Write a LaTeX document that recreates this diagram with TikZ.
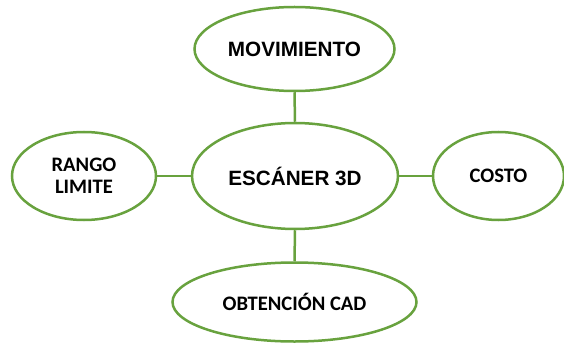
\documentclass[tikz,border=0pt]{standalone}
\usepackage{fontspec}
\usetikzlibrary{shapes.geometric}
\newfontfamily\arialbold{Liberation Sans}[BoldFont=* Bold]
\newfontfamily\calibribold{Carlito}[BoldFont=* Bold]
\definecolor{ringgreen}{RGB}{104,162,62}
\definecolor{linkgreen}{RGB}{104,162,62}
\tikzset{
  %% Green outlined ellipse, white inside
  topic/.style={
    ellipse, draw=ringgreen, fill=white, line width=2.5pt,
    inner sep=0pt, align=center
  },
  mainfont/.style={font=\arialbold\bfseries\fontsize{20.7}{22}\selectfont},
  sidefont/.style={font=\calibribold\bfseries\fontsize{20.6}{21.7}\selectfont},
  link/.style={draw=linkgreen, line width=2.5pt},
}
\begin{document}
\begin{tikzpicture}[x=1pt, y=1pt]

  %% ── Canvas ────────────────────────────────────────────────────────────
  \useasboundingbox (0,0) rectangle (564,343);

  %% ── Centre ────────────────────────────────────────────────────────────
  \node[topic, mainfont, minimum width=206pt, minimum height=106pt]
        (scanner) at (295,167) {ESC\'ANER 3D};

  %% ── Satellites ────────────────────────────────────────────────────────
  \node[topic, mainfont, minimum width=200pt, minimum height=84pt]
        (motion) at (294.5,294) {MOVIMIENTO};
  \node[topic, sidefont, minimum width=144pt, minimum height=88pt]
        (range) at (84,167) {RANGO\\LIMITE};
  \node[topic, sidefont, minimum width=131pt, minimum height=88pt]
        (cost) at (498.5,167) {COSTO};
  \node[topic, sidefont, minimum width=244pt, minimum height=79pt]
        (cad) at (294.5,41) {OBTENCI\'ON CAD};

  %% ── Links ─────────────────────────────────────────────────────────────
  \draw[link] (motion.south) -- (scanner.north);
  \draw[link] (scanner.south) -- (cad.north);
  \draw[link] (range.east) -- (scanner.west);
  \draw[link] (scanner.east) -- (cost.west);

\end{tikzpicture}
\end{document}
